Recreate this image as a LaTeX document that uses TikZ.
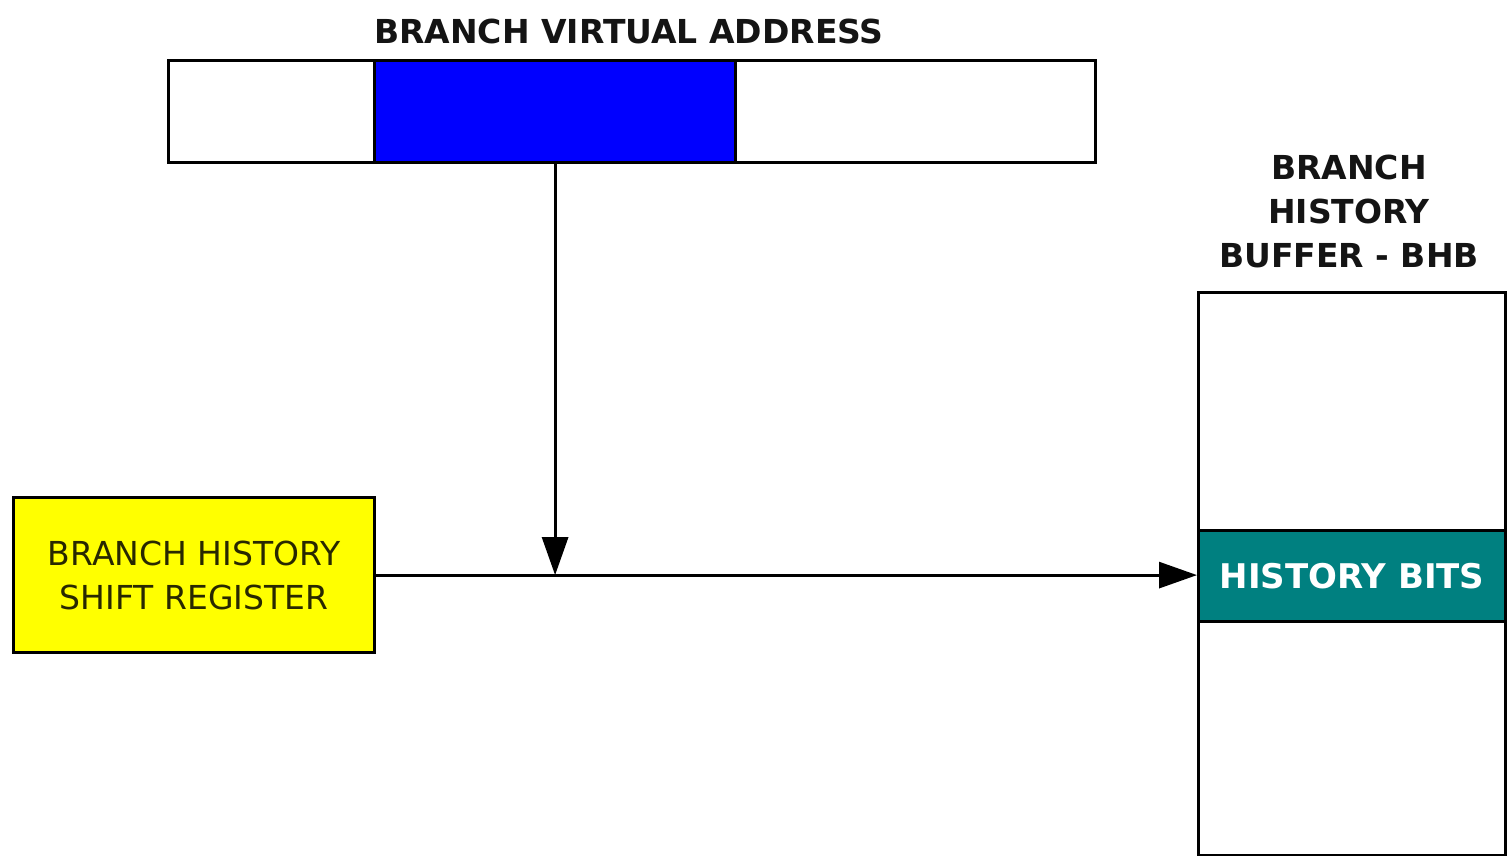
\documentclass[tikz,border=0pt]{standalone}
\usepackage{fontspec}
\setmainfont{DejaVu Sans}
\usetikzlibrary{arrows.meta}
\definecolor{vablue}{RGB}{0,0,255}
\definecolor{hsryellow}{RGB}{255,255,0}
\definecolor{bhbteal}{RGB}{0,128,128}
\definecolor{txtdark}{RGB}{20,20,20}
\definecolor{hsrtext}{RGB}{40,40,0}
\begin{document}
\begin{tikzpicture}[x=1pt,y=-1pt,
  cell/.style={draw=black, line width=3.2pt, inner sep=0pt, anchor=north west, rectangle},
  title/.style={font=\fontsize{33}{44}\selectfont\bfseries, text=txtdark, align=center, inner sep=0pt},
  arr/.style={line width=3pt, -{Triangle[length=38pt,width=26pt]}}
]
\useasboundingbox (0,0) rectangle (1507,856);
\fill[white] (0,0) rectangle (1507,856);
% branch virtual address bar
\node[cell, fill=white, minimum width=206pt, minimum height=102pt] (va1) at (167,59) {};
\node[cell, fill=vablue, minimum width=361pt, minimum height=102pt] (va2) at (373,59) {};
\node[cell, fill=white, minimum width=360pt, minimum height=102pt] (va3) at (734,59) {};
\node[title] (vatitle) at (629,31) {BRANCH VIRTUAL ADDRESS};
% shift register
\node[cell, fill=hsryellow, minimum width=361pt, minimum height=155pt, align=center,
      font=\fontsize{33}{44}\selectfont, text=hsrtext] (hsr) at (12,496)
      {BRANCH HISTORY\\SHIFT REGISTER};
% branch history buffer
\node[cell, fill=white, minimum width=307pt, minimum height=563pt] (bhb) at (1197,291) {};
\node[cell, fill=bhbteal, minimum width=307pt, minimum height=91pt,
      font=\fontsize{34}{44}\selectfont\bfseries, text=white] (hb) at (1197,529) {HISTORY BITS};
\node[title] (bhbtitle) at (1349,211) {BRANCH\\HISTORY\\BUFFER - BHB};
% connectors
\coordinate (hend) at (hsr.east -| hb.west);
\coordinate (join) at (va2.south |- hsr.east);
\draw[arr] (va2.south) -- (join);
\draw[arr] (hsr.east) -- (hend);
\end{tikzpicture}
\end{document}
